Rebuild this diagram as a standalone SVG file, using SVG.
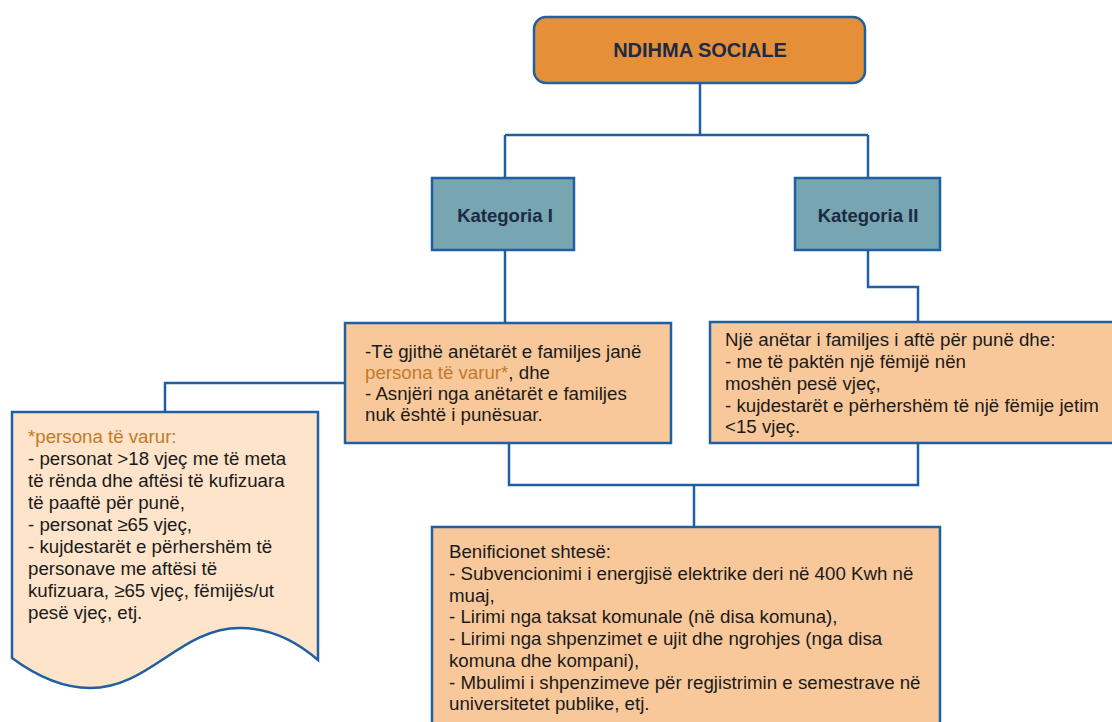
<svg xmlns="http://www.w3.org/2000/svg" width="1112" height="722" viewBox="0 0 1112 722">
<style>
.b{stroke:#1F5FA3;stroke-width:2.5}
.t{font-family:"Liberation Sans",Arial,sans-serif;font-size:18.7px;fill:#1a1a1a}
.h{font-family:"Liberation Sans",Arial,sans-serif;font-weight:bold;fill:#1B2A45;text-anchor:middle}
.o{fill:#C17A2C}
.c{fill:none;stroke:#1F5FA3;stroke-width:2.5}
</style>
<rect width="1112" height="722" fill="#fff"/>
<g id="connectors">
<path class="c" d="M700 83V135M505 135H868M505 135V178M868 135V178"/>
<path class="c" d="M505 250V323M868 250V287H918V322"/>
<path class="c" d="M345 383H165V412"/>
<path class="c" d="M509 443V485H918V443M694 485V527"/>
</g>
<g id="ndihma">
<rect class="b" x="534" y="17" width="331" height="66" rx="12" fill="#E59038"/>
<text class="h" x="700" y="57" font-size="20">NDIHMA SOCIALE</text>
</g>
<g id="kat1">
<rect class="b" x="432" y="178" width="142" height="72" fill="#77A5B0"/>
<text class="h" x="505" y="222" font-size="18.5">Kategoria I</text>
</g>
<g id="kat2">
<rect class="b" x="795" y="178" width="145" height="72" fill="#77A5B0"/>
<text class="h" x="868" y="222" font-size="18.5">Kategoria II</text>
</g>
<g id="cond1">
<rect class="b" x="345" y="323" width="326" height="120" fill="#F8C89A"/>
<text class="t"><tspan x="365" y="358">-Të gjithë anëtarët e familjes janë</tspan><tspan x="365" y="379"><tspan class="o">persona të varur*</tspan>, dhe</tspan><tspan x="365" y="400">- Asnjëri nga anëtarët e familjes</tspan><tspan x="365" y="421">nuk është i punësuar.</tspan></text>
</g>
<g id="cond2">
<rect class="b" x="710" y="322" width="410" height="121" fill="#F8C89A"/>
<text class="t"><tspan x="725" y="346">Një anëtar i familjes i aftë për punë dhe:</tspan><tspan x="725" y="368">- me të paktën një fëmijë nën</tspan><tspan x="725" y="390">moshën pesë vjeç,</tspan><tspan x="725" y="412">- kujdestarët e përhershëm të një fëmije jetim</tspan><tspan x="725" y="433">&lt;15 vjeç.</tspan></text>
</g>
<g id="note">
<path class="b" d="M12 412H318V660C295 640 270 628 240 628C180 628 150 688 90 688C60 688 35 675 12 658Z" fill="#FDE4CA"/>
<text class="t"><tspan class="o" x="28" y="443">*persona të varur:</tspan><tspan x="28" y="465">- personat &gt;18 vjeç me të meta</tspan><tspan x="28" y="487">të rënda dhe aftësi të kufizuara</tspan><tspan x="28" y="509">të paaftë për punë,</tspan><tspan x="28" y="531">- personat ≥65 vjeç,</tspan><tspan x="28" y="553">- kujdestarët e përhershëm të</tspan><tspan x="28" y="575">personave me aftësi të</tspan><tspan x="28" y="597">kufizuara, ≥65 vjeç, fëmijës/ut</tspan><tspan x="28" y="619">pesë vjeç, etj.</tspan></text>
</g>
<g id="benefits">
<rect class="b" x="432" y="527" width="508" height="210" fill="#F8C89A"/>
<text class="t"><tspan x="449" y="558">Benificionet shtesë:</tspan><tspan x="449" y="580">- Subvencionimi i energjisë elektrike deri në 400 Kwh në</tspan><tspan x="449" y="602">muaj,</tspan><tspan x="449" y="623">- Lirimi nga taksat komunale (në disa komuna),</tspan><tspan x="449" y="645">- Lirimi nga shpenzimet e ujit dhe ngrohjes (nga disa</tspan><tspan x="449" y="667">komuna dhe kompani),</tspan><tspan x="449" y="689">- Mbulimi i shpenzimeve për regjistrimin e semestrave në</tspan><tspan x="449" y="710">universitetet publike, etj.</tspan></text>
</g>
</svg>
